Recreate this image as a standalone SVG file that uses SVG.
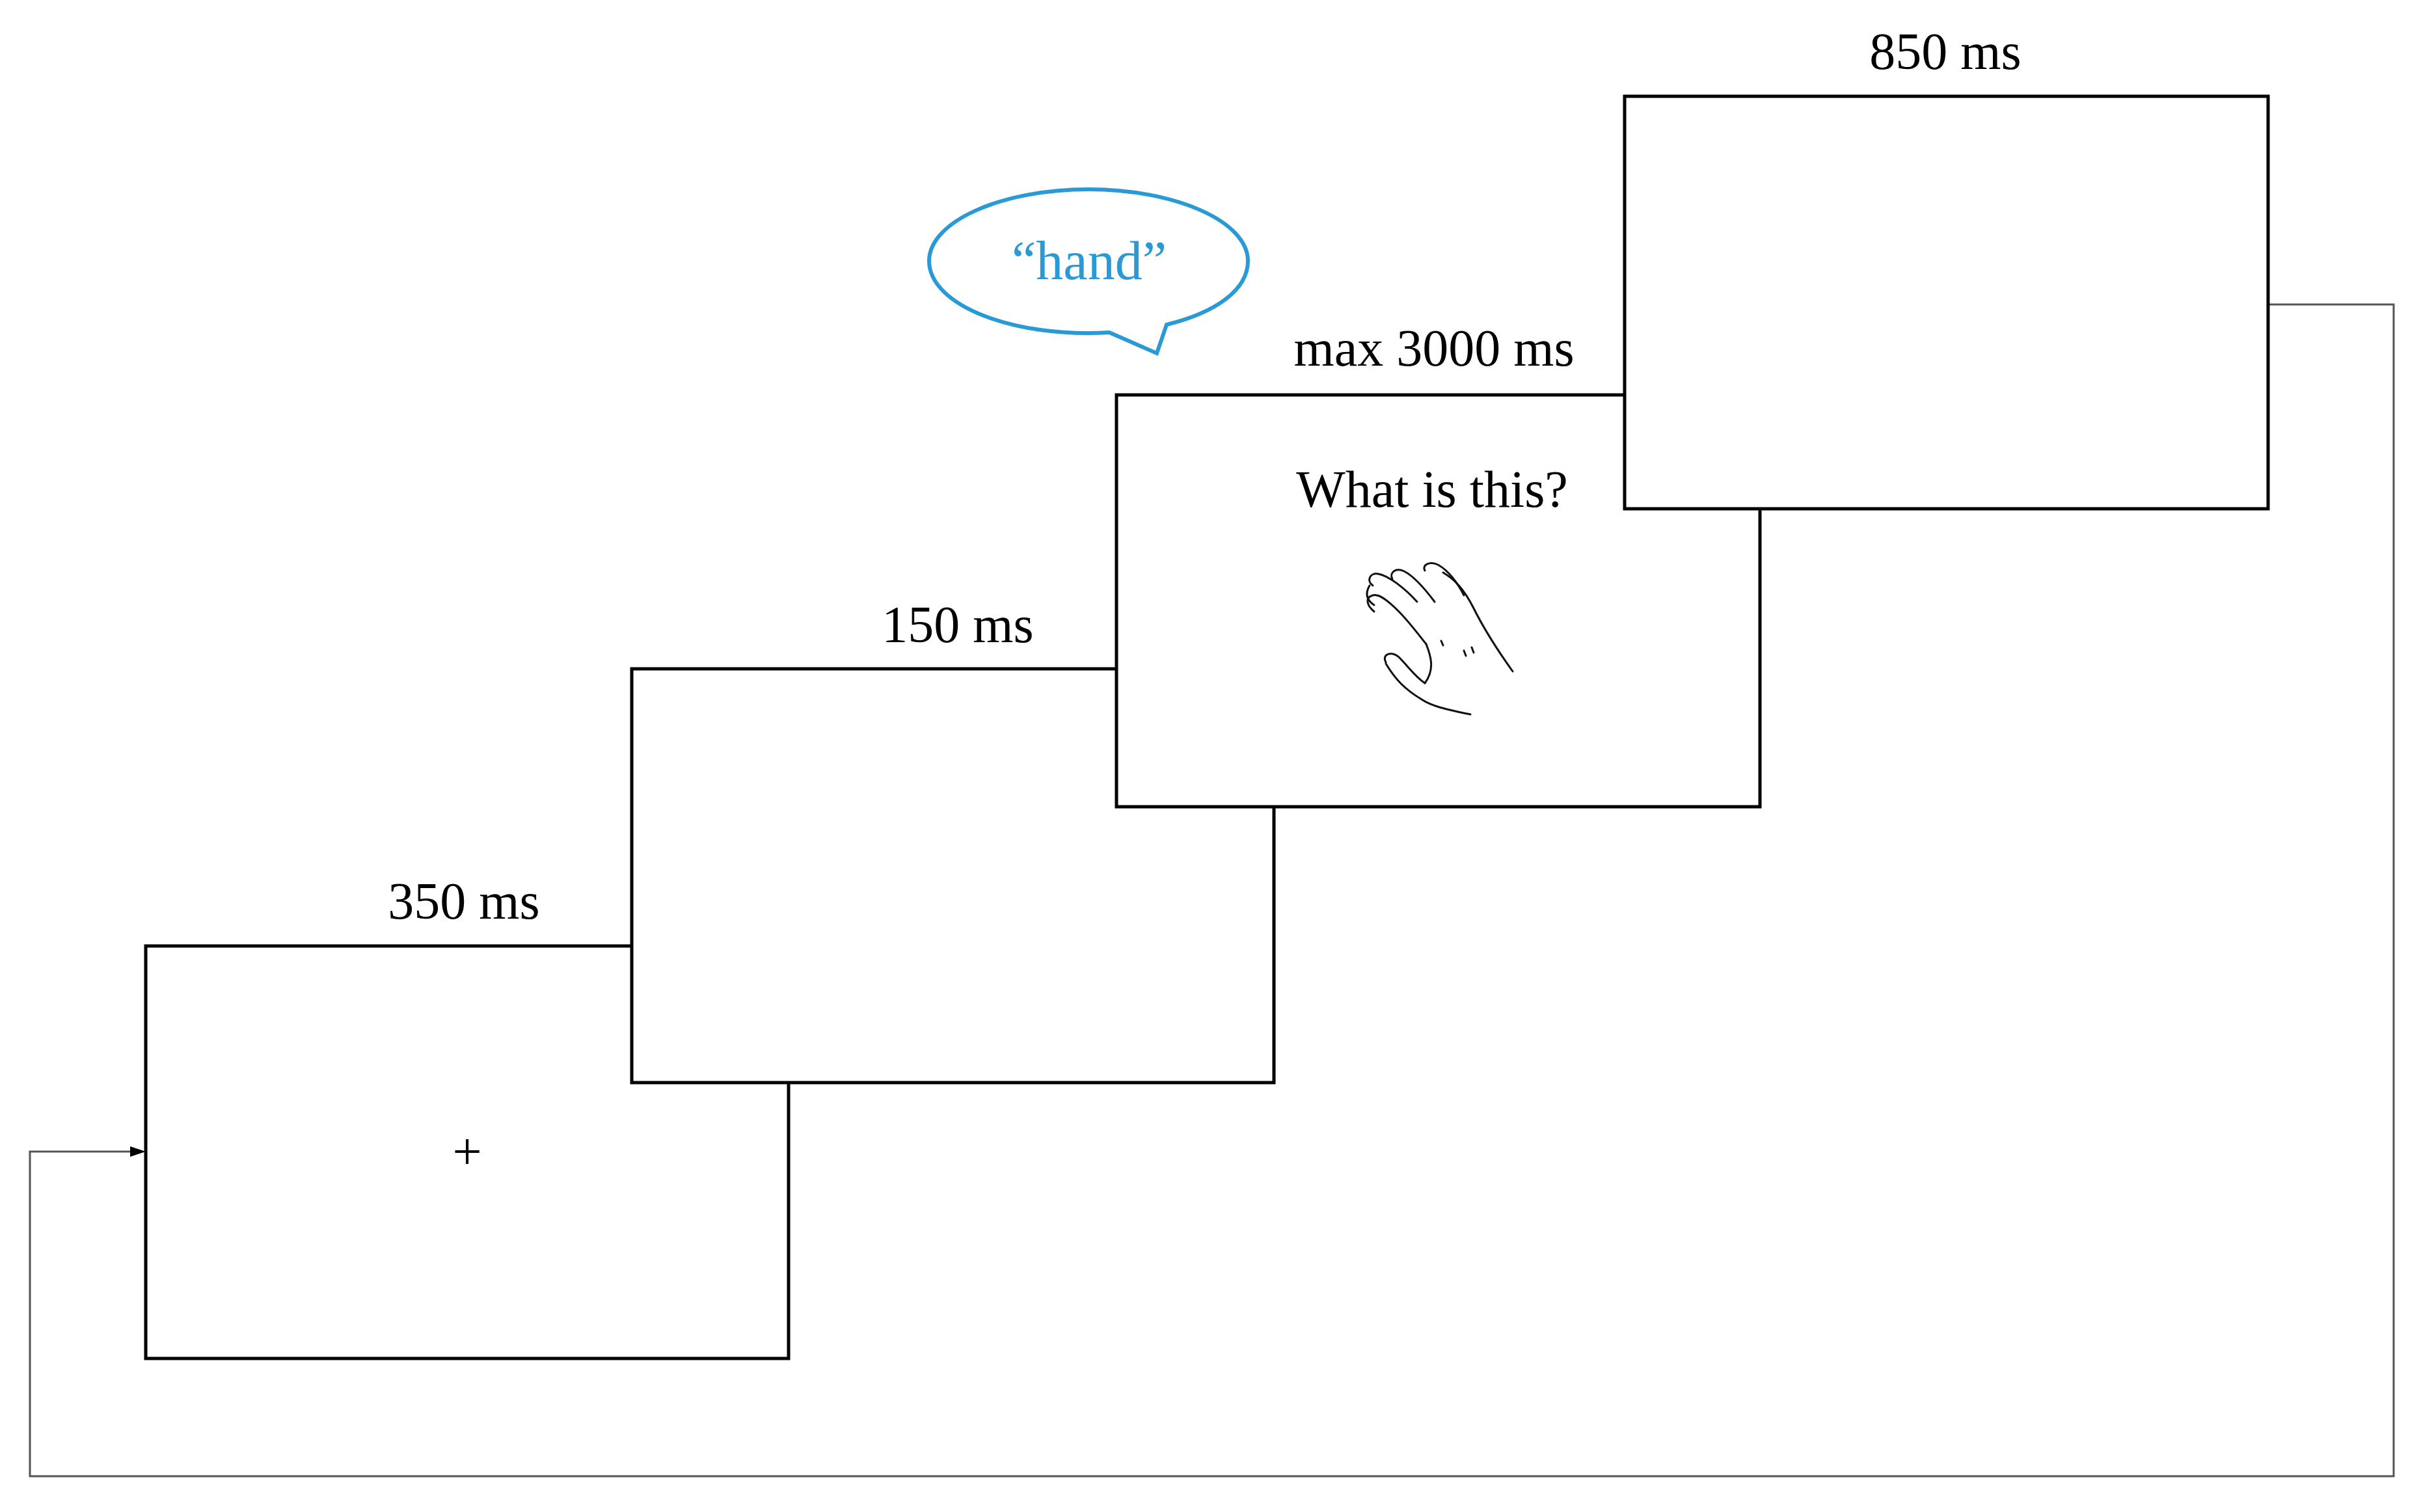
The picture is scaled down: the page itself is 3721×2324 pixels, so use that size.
<svg xmlns="http://www.w3.org/2000/svg" width="3721" height="2324" viewBox="0 0 3721 2324">
<style>
.box{fill:#fff;stroke:#000;stroke-width:5}
.lbl{font-family:"Liberation Serif",serif;font-size:80px;fill:#000;text-anchor:middle}
.loop{fill:none;stroke:#555;stroke-width:3}
.hand{fill:none;stroke:#111;stroke-width:3;stroke-linecap:round;stroke-linejoin:round}
</style>
<defs>
<marker id="ah" markerWidth="10" markerHeight="10" refX="9" refY="5" orient="auto" markerUnits="userSpaceOnUse">
<path d="M0,0 L10,5 L0,10 Z" fill="#000"/>
</marker>
</defs>
<rect width="3721" height="2324" fill="#fff"/>
<g id="connectors">
<path class="loop" d="M3486,468 H3679 V2269 H46 V1770 H214" marker-end="url(#ah)"/>
<path d="M200,1762 L224,1770 L200,1778 Z" fill="#000"/>
</g>
<g id="node-fixation">
<rect class="box" x="224" y="1454" width="988" height="634"/>
<text class="lbl" x="713" y="1412">350 ms</text>
<text class="lbl" x="718" y="1797" font-size="90">+</text>
</g>
<g id="node-blank">
<rect class="box" x="971" y="1028" width="987" height="636"/>
<text class="lbl" x="1472" y="987">150 ms</text>
</g>
<g id="node-picture">
<rect class="box" x="1716" y="607" width="989" height="633"/>
<text class="lbl" x="2204" y="562">max 3000 ms</text>
<text class="lbl" x="2201" y="779" font-size="56">What is this?</text>
<g class="hand">
<path d="M2112,940 C2100,930 2098,918 2110,915 C2120,912 2135,925 2150,940 C2165,955 2180,975 2192,990"/>
<path d="M2110,900 C2100,893 2105,880 2118,882 C2135,885 2160,905 2178,925"/>
<path d="M2140,890 C2135,880 2145,872 2158,878 C2172,885 2190,905 2205,925"/>
<path d="M2190,877 C2185,868 2198,862 2210,868 C2225,876 2240,895 2250,915"/>
<path d="M2218,880 C2235,890 2250,905 2265,935 C2280,965 2295,990 2325,1032"/>
<path d="M2130,1018 C2123,1005 2140,1000 2150,1010 C2165,1025 2175,1040 2190,1050"/>
<path d="M2130,1020 C2145,1045 2160,1060 2185,1075 C2200,1085 2220,1090 2260,1098"/>
<path d="M2192,990 C2200,1010 2205,1030 2190,1050"/>
<path d="M2105,900 C2098,912 2100,922 2112,930"/>
<path d="M2250,1000 L2253,1008 M2262,995 L2265,1003 M2215,985 L2218,992"/>
</g>
</g>
<g id="node-blank2">
<rect class="box" x="2497" y="148" width="989" height="634"/>
<text class="lbl" x="2990" y="106">850 ms</text>
</g>
<g id="bubble">
<path d="M1705,511 C1560,520 1428,470 1428,401 C1428,340 1540,291 1673,291 C1806,291 1918,340 1918,401 C1918,445 1870,480 1793,499 L1778,543 Z" fill="#fff" stroke="#2a9ad6" stroke-width="6" stroke-linejoin="miter"/>
<text x="1674" y="429" font-family="Liberation Serif,serif" font-size="84" fill="#2a9ad6" text-anchor="middle">“hand”</text>
</g>
</svg>
